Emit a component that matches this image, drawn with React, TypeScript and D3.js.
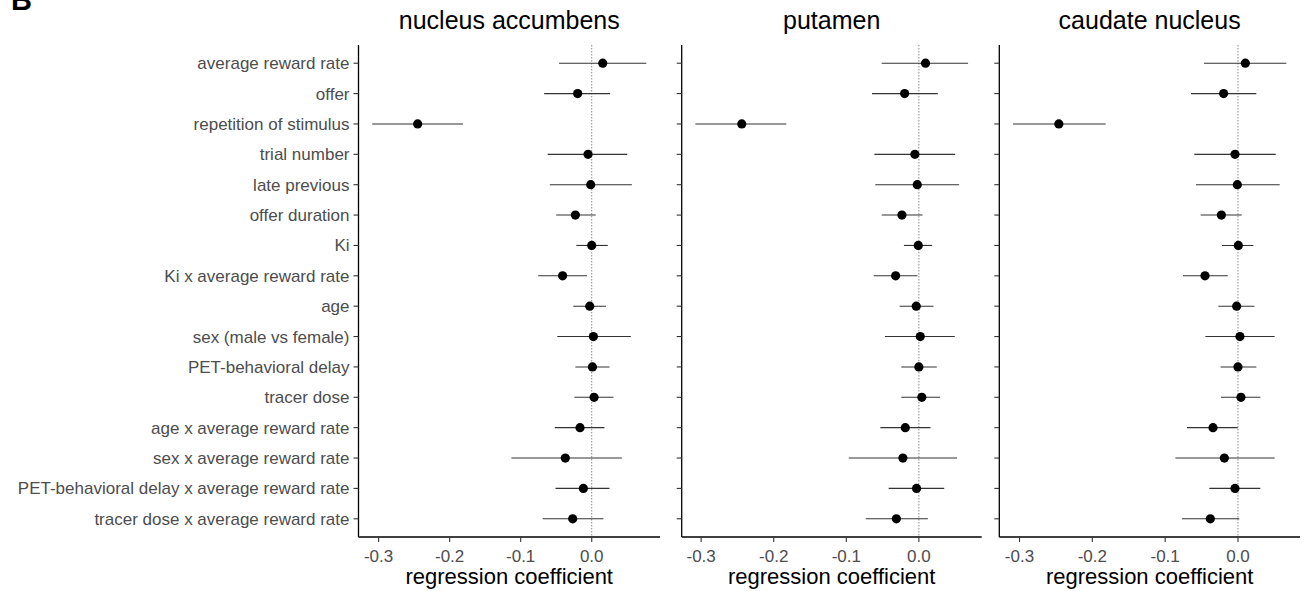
import React from "react";
import * as d3 from "d3";

const terms = [
  "average reward rate",
  "offer",
  "repetition of stimulus",
  "trial number",
  "late previous",
  "offer duration",
  "Ki",
  "Ki x average reward rate",
  "age",
  "sex (male vs female)",
  "PET-behavioral delay",
  "tracer dose",
  "age x average reward rate",
  "sex x average reward rate",
  "PET-behavioral delay x average reward rate",
  "tracer dose x average reward rate",
];

const regions = ["nucleus accumbens", "putamen", "caudate nucleus"];

const accEst = [0.0155, -0.0198, -0.245, -0.0052, -0.0014, -0.023, 0.0, -0.041, -0.0028, 0.0023, 0.001, 0.0033, -0.0165, -0.0372, -0.0118, -0.0268];
const accLo = [-0.046, -0.067, -0.309, -0.062, -0.059, -0.05, -0.0217, -0.0754, -0.026, -0.0485, -0.023, -0.0245, -0.052, -0.113, -0.051, -0.069];
const accHi = [0.0768, 0.0259, -0.181, 0.05, 0.0565, 0.0056, 0.0226, -0.0066, 0.0202, 0.055, 0.025, 0.0306, 0.0179, 0.0424, 0.025, 0.0165];

const putEst = [0.0092, -0.0196, -0.244, -0.0055, -0.0022, -0.0233, -0.0008, -0.032, -0.0036, 0.0019, 0.0, 0.0041, -0.0187, -0.022, -0.0032, -0.031];
const putLo = [-0.0512, -0.0645, -0.308, -0.0613, -0.06, -0.0512, -0.0206, -0.0622, -0.0265, -0.0467, -0.0242, -0.0242, -0.053, -0.0966, -0.0416, -0.0732];
const putHi = [0.0678, 0.0261, -0.1827, 0.05, 0.0555, 0.0051, 0.0184, -0.0018, 0.0202, 0.0495, 0.0247, 0.0294, 0.016, 0.0527, 0.0349, 0.0124];

const cauEst = [0.0101, -0.0197, -0.246, -0.0041, -0.0009, -0.0228, 0.0005, -0.0453, -0.0018, 0.0027, 0.0, 0.0041, -0.0343, -0.0187, -0.0041, -0.038];
const cauLo = [-0.0467, -0.0645, -0.309, -0.06, -0.0577, -0.0512, -0.022, -0.0755, -0.027, -0.0448, -0.0238, -0.0233, -0.07, -0.086, -0.0393, -0.077];
const cauHi = [0.0664, 0.0252, -0.1817, 0.0518, 0.0573, 0.0051, 0.0211, -0.0141, 0.0225, 0.0504, 0.0252, 0.0307, -0.0004, 0.0504, 0.0307, 0.0019];

const xTicks = [-0.3, -0.2, -0.1, 0.0];

const panelData = [
  { est: accEst, lo: accLo, hi: accHi },
  { est: putEst, lo: putLo, hi: putHi },
  { est: cauEst, lo: cauLo, hi: cauHi },
];

const W = 1306;
const H = 591;
const FONT = "'Liberation Sans', Arial, Helvetica, sans-serif";
const panelX: [number, number][] = [
  [358.5, 660],
  [681.7, 981.7],
  [999.3, 1300],
];
const top = 45;
const bottom = 537;

export default function App() {
  const y = d3
    .scalePoint<string>()
    .domain(terms)
    .range([top, bottom])
    .padding(0.6);

  return (
    <svg width={W} height={H} style={{ position: "absolute", left: 0, top: 0, background: "#fff" }} fontFamily={FONT}>
      <rect width={W} height={H} fill="#fff" />
      <text x={11} y={10} fontSize={29} fontWeight="bold" fill="#000">B</text>
      {panelData.map((pd, pi) => {
        const lo = d3.min(pd.lo)!;
        const hi = d3.max(pd.hi)!;
        const pad = (hi - lo) * 0.05;
        const x = d3.scaleLinear().domain([lo - pad, hi + pad]).range(panelX[pi]);
        const [x0, x1] = panelX[pi];
        return (
          <g key={pi}>
            <text x={(x0 + x1) / 2} y={29} fontSize={25} textAnchor="middle" fill="#000">
              {regions[pi]}
            </text>
            {/* zero line */}
            <line x1={x(0)} x2={x(0)} y1={top} y2={bottom} stroke="#888" strokeWidth={1} strokeDasharray="1.5,1.5" />
            {/* error bars */}
            {terms.map((t, i) => (
              <line key={"e" + i} x1={x(pd.lo[i])} x2={x(pd.hi[i])} y1={y(t)!} y2={y(t)!} stroke="#333" strokeWidth={1.1} />
            ))}
            {terms.map((t, i) => (
              <circle key={"p" + i} cx={x(pd.est[i])} cy={y(t)!} r={4.6} fill="#000" />
            ))}
            {/* axes */}
            <line x1={x0} x2={x0} y1={top} y2={bottom} stroke="#000" strokeWidth={1.3} />
            <line x1={x0} x2={x1} y1={bottom} y2={bottom} stroke="#000" strokeWidth={1.3} />
            {terms.map((t, i) => (
              <line key={"yt" + i} x1={x0 - 5} x2={x0} y1={y(t)!} y2={y(t)!} stroke="#333" strokeWidth={1.1} />
            ))}
            {pi === 0 &&
              terms.map((t, i) => (
                <text key={"yl" + i} x={x0 - 9} y={y(t)! + 6} fontSize={17} textAnchor="end" fill="#4d4d4d">
                  {t}
                </text>
              ))}
            {xTicks.map((v, i) => (
              <g key={"xt" + i}>
                <line x1={x(v)} x2={x(v)} y1={bottom} y2={bottom + 5} stroke="#333" strokeWidth={1.1} />
                <text x={x(v)} y={bottom + 25} fontSize={17} textAnchor="middle" fill="#4d4d4d">
                  {d3.format(".1f")(v).replace("−", "-")}
                </text>
              </g>
            ))}
            <text x={(x0 + x1) / 2} y={584} fontSize={22} textAnchor="middle" fill="#000">
              regression coefficient
            </text>
          </g>
        );
      })}
    </svg>
  );
}
